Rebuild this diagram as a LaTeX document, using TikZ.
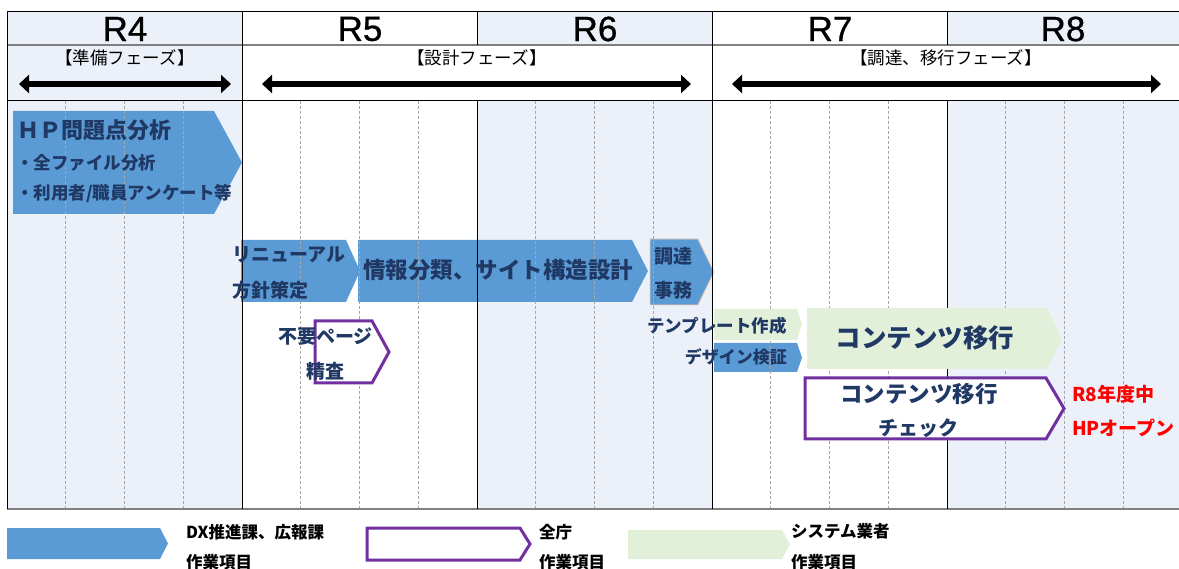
\documentclass[tikz,border=0pt]{standalone}
\usepackage{fontspec}
\setmainfont{Noto Sans CJK JP}
\newfontfamily\rfont[FakeBold=0.8]{Liberation Sans}
\usetikzlibrary{arrows.meta}
\definecolor{barblue}{HTML}{5B9BD5}
\definecolor{bargreen}{HTML}{E2F0D9}
\definecolor{barpurple}{HTML}{7030A0}
\definecolor{colshade}{HTML}{ECF1F9}
\definecolor{navy}{HTML}{1F3864}
\definecolor{gridgray}{HTML}{A6A6A6}
\definecolor{peach}{HTML}{F8CBAD}
\newcommand\chv[6][]{\path[#1] (#2,#3) -- ({#4-#6},#3) -- (#4,{(#3+#5)/2}) -- ({#4-#6},#5) -- (#2,#5) -- cycle;}
\newcommand\fs[1]{\fontsize{#1}{#1}\selectfont}
\begin{document}
\begin{tikzpicture}[x=1pt,y=-1pt,
  bluebar/.style={fill=barblue},
  greenbar/.style={fill=bargreen},
  purplebar/.style={draw=barpurple,line width=3pt,fill=white,line join=miter},
  lbl/.style={text=navy,font=\bfseries,inner sep=0pt,anchor=west},
  leg/.style={text=black,font=\bfseries\fs{16.5},inner sep=0pt,anchor=west},
  yearlbl/.style={inner sep=0pt,font=\rfont\fs{35}},
  phaselbl/.style={inner sep=0pt,font=\fs{17.5}},
  quarter/.style={draw=gridgray,line width=0.8pt,dash pattern=on 3pt off 2pt},
  gridline/.style={draw=black,line width=1pt},
  graygrid/.style={draw=gray,line width=1.2pt},
  phasearrow/.style={line width=6.5pt,{Triangle[length=10pt,width=18pt]}-{Triangle[length=10pt,width=18pt]}},
  redlbl/.style={text=red,font=\bfseries\fs{19},inner sep=0pt,anchor=west}]
\useasboundingbox (0,0) rectangle (1179,569);
\fill[white] (0,0) rectangle (1179,569);
% shading
\fill[colshade] (7,12) rectangle (242,45);
\fill[colshade] (477,12) rectangle (712,45);
\fill[colshade] (947,12) rectangle (1179,45);
\fill[colshade] (7,45) rectangle (242,101);
\fill[colshade] (7,101) rectangle (242,509);
\fill[colshade] (477,101) rectangle (712,509);
\fill[colshade] (947,101) rectangle (1179,509);
% blue bars
\chv[bluebar]{13}{111}{242}{214}{28}
\chv[bluebar]{241}{240}{360}{302}{14}
\chv[bluebar]{358}{240}{648}{302}{16}
\chv[bluebar,draw=peach,line width=0.8pt]{650}{239}{714}{305}{16}
\chv[bluebar]{714}{343}{802}{372}{5}
% quarter lines
\foreach \c in {0,...,4}{
  \foreach \k in {1,2,3}{
    \draw[quarter] ({7+235*\c+58.75*\k},101) -- ({7+235*\c+58.75*\k},509);
  }
}
% grid
\draw[gridline] (7,12) -- (1179,12);
\draw[graygrid] (7,45) -- (1179,45);
\draw[gridline] (7,101) -- (1179,101);
\draw[graygrid] (7,509) -- (1179,509);
\draw[gridline] (7,12) -- (7,509);
\draw[gridline] (242,12) -- (242,509);
\draw[gridline] (712,12) -- (712,509);
\draw[gridline] (477,12) -- (477,45);
\draw[gridline] (477,101) -- (477,509);
\draw[gridline] (947,12) -- (947,45);
\draw[gridline] (947,101) -- (947,509);
% green and purple bars
\chv[greenbar]{714}{309}{802}{340}{5}
\chv[greenbar]{807}{308}{1062}{369}{15}
\chv[purplebar]{315}{321}{389}{383}{17}
\chv[purplebar]{805}{378}{1064}{439}{18}
% header texts
\node[yearlbl] (r4) at (125,29) {R4};
\node[yearlbl] (r5) at (360,29) {R5};
\node[yearlbl] (r6) at (595,29) {R6};
\node[yearlbl] (r7) at (830,29) {R7};
\node[yearlbl] (r8) at (1063,29) {R8};
\node[phaselbl] (ph1) at (125,58) {【準備フェーズ】};
\node[phaselbl] (ph2) at (477,58) {【設計フェーズ】};
\node[phaselbl] (ph3) at (946,58) {【調達、移行フェーズ】};
\coordinate (a1l) at (19,84);
\coordinate (a1r) at (231,84);
\coordinate (a2l) at (262,84);
\coordinate (a2r) at (691,84);
\coordinate (a3l) at (732,84);
\coordinate (a3r) at (1161,84);
\draw[phasearrow] (a1l) -- (a1r);
\draw[phasearrow] (a2l) -- (a2r);
\draw[phasearrow] (a3l) -- (a3r);
% body texts
\node[lbl,font=\bfseries\fs{22}] (hp1) at (17,130) {ＨＰ問題点分析};
\node[lbl,font=\bfseries\fs{17.5}] (hp2) at (16,163) {・全ファイル分析};
\node[lbl,font=\bfseries\fs{17.5}] (hp3) at (16,194) {・利用者/職員アンケート等};
\node[lbl,font=\bfseries\fs{19}] (ren1) at (232,255) {リニューアル};
\node[lbl,font=\bfseries\fs{19}] (ren2) at (232,290) {方針策定};
\node[lbl,font=\bfseries\fs{22.5}] (info) at (363,270) {情報分類、サイト構造設計};
\node[lbl,font=\bfseries\fs{19}] (cho1) at (654,256) {調達};
\node[lbl,font=\bfseries\fs{19}] (cho2) at (654,290) {事務};
\node[lbl,font=\bfseries\fs{19}] (fuyo1) at (278,337) {不要ページ};
\node[lbl,font=\bfseries\fs{19}] (fuyo2) at (306,371) {精査};
\node[lbl,anchor=east,font=\bfseries\fs{17.5}] (tmpl) at (787,326) {テンプレート作成};
\node[lbl,anchor=east,font=\bfseries\fs{17}] (dsgn) at (787,357) {デザイン検証};
\node[lbl,anchor=center,font=\bfseries\fs{25.5}] (cont) at (925,338) {コンテンツ移行};
\node[lbl,anchor=center,font=\bfseries\fs{22.5}] (chk1) at (919,394) {コンテンツ移行};
\node[lbl,anchor=center,font=\bfseries\fs{20}] (chk2) at (918,428) {チェック};
\node[redlbl] (open1) at (1072,394) {R8年度中};
\node[redlbl] (open2) at (1072,428) {HPオープン};
% legend
\chv[bluebar]{7}{528}{168}{559}{8}
\chv[purplebar]{367}{528}{530}{560}{10}
\chv[greenbar]{628}{530}{790}{559}{8}
\node[leg] (lg1a) at (186,532) {DX推進課、広報課};
\node[leg] (lg1b) at (186,562) {作業項目};
\node[leg] (lg2a) at (539,532) {全庁};
\node[leg] (lg2b) at (539,562) {作業項目};
\node[leg] (lg3a) at (791,531) {システム業者};
\node[leg] (lg3b) at (791,562) {作業項目};
\end{tikzpicture}
\end{document}
